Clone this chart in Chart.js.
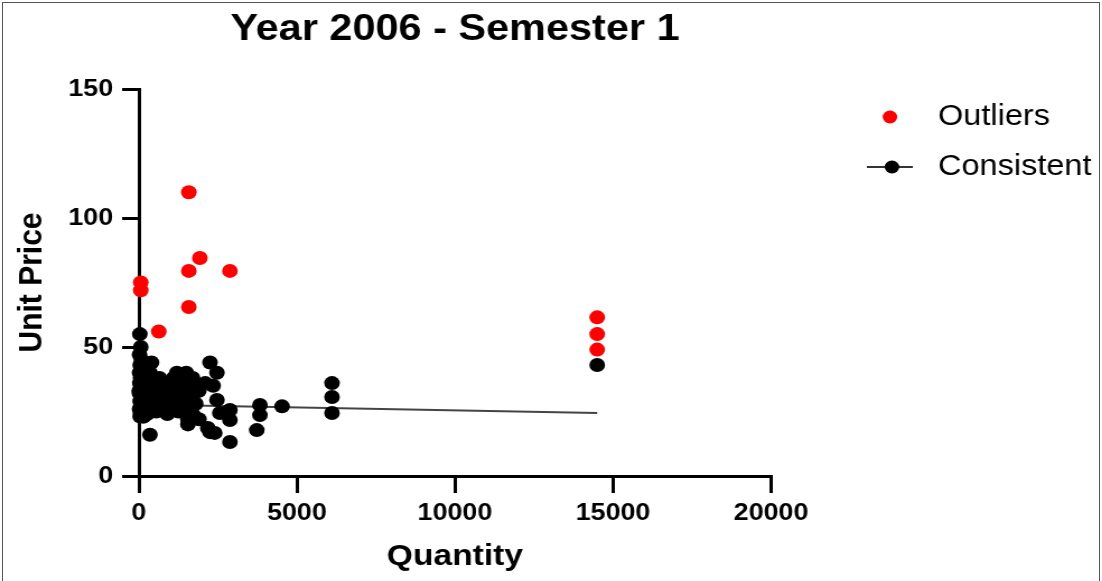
<!DOCTYPE html>
<html>
<head>
<meta charset="utf-8">
<script src="https://cdn.jsdelivr.net/npm/chart.js@4.4.0/dist/chart.umd.min.js"></script>
<style>
	body { margin: 0; background: #fff; overflow: hidden; }
	#frame { position: absolute; left: 2px; top: 2px; width: 1096px; height: 620px; border: 1px solid #555; }
	#wrap { position: absolute; left: 0; top: 0; width: 984px; height: 581px; transform: scaleX(1.12); transform-origin: 0 0; }
</style>
</head>
<body>
<div id="frame"></div>
<div id="wrap"><canvas id="myChart" width="984" height="581"></canvas></div>
<script>
// values
const outlierQty   = [60, 60, 630, 1580, 1580, 1930, 2880, 1580, 14500, 14500, 14500];
const outlierPrice = [75, 72, 56, 110, 79.5, 84.5, 79.5, 65.5, 61.5, 55, 49];

const consistentQty = [
	30, 60, 20, 80, 40, 100, 20, 150, 50, 200, 30, 120, 60, 250, 20, 100, 180, 40, 300, 70,
	150, 20, 220, 90, 260, 50, 130, 10, 200, 350, 400, 300, 450, 350, 500, 350,
	600, 700, 800, 900, 900, 1000, 1100, 1100, 1200, 1200, 1300, 1300, 1400, 1400, 1500, 1550,
	1550, 1550, 1600, 1600, 1700, 1700, 1800, 1800, 1900, 1900, 2100, 1550, 750, 1000, 1250, 650,
	2250, 2470, 2350, 2470, 2560, 2880, 2880, 2880, 2180, 2400, 2250, 3830, 3830, 3730, 4530,
	6110, 6110, 6110, 14500,
	40, 150, 550, 850, 1150, 1450, 1700
];
const consistentPrice = [
	55, 50, 47, 45, 43, 42, 40, 39, 38, 37, 36, 35, 34, 33, 32, 31, 30, 29, 29, 28,
	27, 26, 26, 25, 24, 24, 30, 33, 41, 40, 44, 36, 32, 27, 30, 16,
	34, 30, 36, 33, 24, 27, 38, 31, 40, 34, 28, 36, 32, 25, 40, 37,
	30, 22, 34, 27, 31, 24, 35, 28, 22, 33, 36, 20, 26, 35, 25, 38,
	44, 40, 35, 29.5, 24.4, 25.6, 21.7, 13.2, 18.6, 16.7, 17, 27.5, 23.6, 17.8, 27,
	36, 30.6, 24.4, 43,
	23, 23, 25, 29, 29, 36, 38
];

// fitted line
const trendQty   = [0, 14500];
const trendPrice = [27.7, 24.4];

const xTickLabels = [0, 5000, 10000, 15000, 20000];
const yTickLabels = [0, 50, 100, 150];

const seriesNames = ["Outliers", "Consistent"];

function pts(xs, ys) {
	var out = [];
	for (var i = 0; i < xs.length; i++) {
		out.push({ x: xs[i], y: ys[i] });
	}
	return out;
}

Chart.defaults.font.family = "'Liberation Sans', Arial, sans-serif";
Chart.defaults.color = "#000";

// legend on the right, drawn by hand
const sideLegend = {
	id: 'sideLegend',
	afterDraw: function(chart) {
		const ctx = chart.ctx;
		ctx.save();
		ctx.fillStyle = "#ff0000";
		ctx.beginPath();
		ctx.arc(794.6, 117, 6.5, 0, Math.PI * 2);
		ctx.fill();

		ctx.strokeStyle = "#333";
		ctx.lineWidth = 2;
		ctx.beginPath();
		ctx.moveTo(774, 167);
		ctx.lineTo(815, 167);
		ctx.stroke();
		ctx.fillStyle = "#000";
		ctx.beginPath();
		ctx.arc(796.4, 167, 6.5, 0, Math.PI * 2);
		ctx.fill();

		ctx.font = "29px 'Liberation Sans', Arial, sans-serif";
		ctx.fillStyle = "#000";
		ctx.textBaseline = "alphabetic";
		ctx.fillText(seriesNames[0], 837.5, 125);
		ctx.fillText(seriesNames[1], 837.5, 175);
		ctx.restore();
	}
};

const myChart = document.getElementById("myChart");
const config = {
	type: 'scatter',
	data: {
		datasets: [
			{
				label: seriesNames[0],
				data: pts(outlierQty, outlierPrice),
				backgroundColor: "#ff0000",
				borderWidth: 0,
				pointRadius: 7,
				clip: false,
				order: 1
			},
			{
				label: seriesNames[1],
				data: pts(consistentQty, consistentPrice),
				backgroundColor: "#000",
				borderWidth: 0,
				pointRadius: 7,
				clip: false,
				order: 2
			},
			{
				label: "trend",
				data: pts(trendQty, trendPrice),
				showLine: true,
				borderColor: "#444",
				borderWidth: 2,
				pointRadius: 0,
				clip: false,
				order: 3
			}
		]
	},
	options: {
		responsive: false,
		animation: false,
		layout: { padding: { left: 0, right: 295.6, top: 0, bottom: 0 } },
		plugins: {
			legend: { display: false },
			tooltip: { enabled: false },
			title: {
				display: true,
				text: "Year 2006 - Semester 1",
				fullSize: false,
				font: { size: 37, weight: 'bold' },
				padding: { top: 8, bottom: 36.6 }
			}
		},
		scales: {
			x: {
				type: 'linear',
				min: 0,
				max: 20000,
				afterFit: function(scale) { scale.height = 105; },
				afterBuildTicks: function(scale) {
					scale.ticks = xTickLabels.map(function(v) { return { value: v }; });
				},
				ticks: {
					font: { size: 24, weight: 'bold' },
					padding: 6,
					maxRotation: 0,
					callback: function(value) { return String(value); }
				},
				grid: { drawOnChartArea: false, drawTicks: true, tickLength: 17, color: "#000", lineWidth: 3 },
				border: { color: "#000", width: 3 },
				title: { display: true, text: "Quantity", font: { size: 30, weight: 'bold' }, padding: { top: 0, bottom: 6 } }
			},
			y: {
				type: 'linear',
				min: 0,
				max: 150,
				afterFit: function(scale) { scale.width = 124; },
				afterBuildTicks: function(scale) {
					scale.ticks = yTickLabels.map(function(v) { return { value: v }; });
				},
				ticks: {
					font: { size: 24, weight: 'bold' },
					padding: 8,
					callback: function(value) { return String(value); }
				},
				grid: { drawOnChartArea: false, drawTicks: true, tickLength: 15, color: "#000", lineWidth: 3 },
				border: { color: "#000", width: 3 },
				title: { display: true, text: "Unit Price", font: { size: 30, weight: 'bold' }, padding: { top: 11, bottom: 0 } }
			}
		}
	},
	plugins: [sideLegend]
};
const Chart1 = new Chart(myChart, config);
</script>
</body>
</html>
